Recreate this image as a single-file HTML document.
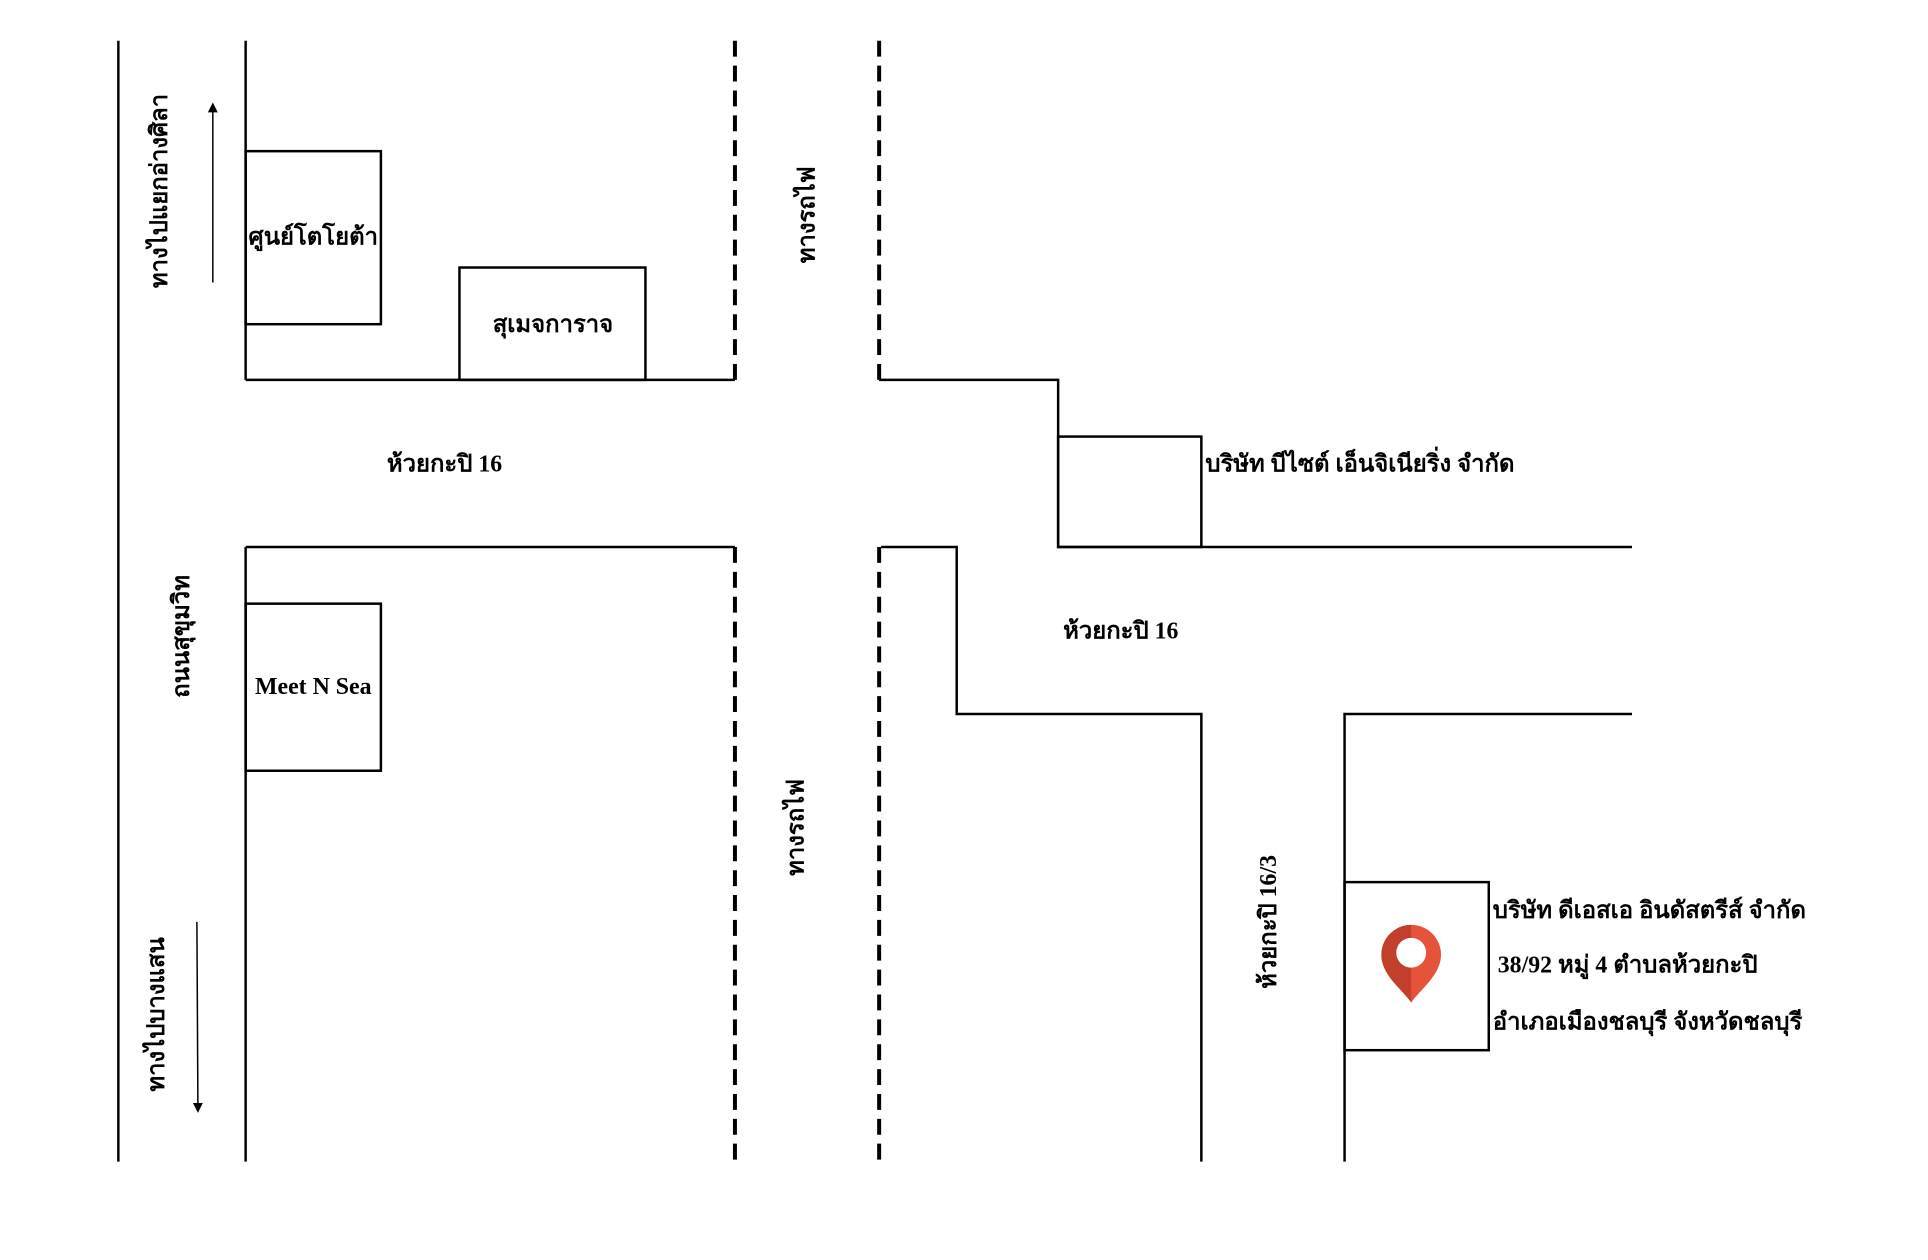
<!DOCTYPE html>
<html><head><meta charset="utf-8"><style>
html,body{margin:0;padding:0;background:#fff}
svg{display:block}
text{font-family:"Liberation Serif","Noto Serif CJK SC",serif;font-weight:bold;font-size:24px;fill:#000}
</style></head><body>
<svg width="1928" height="1260" viewBox="0 0 1928 1260" xmlns="http://www.w3.org/2000/svg">
<defs><marker id="ah" markerWidth="10" markerHeight="10" refX="5" refY="5" orient="auto" markerUnits="userSpaceOnUse"><path d="M0,0 L10,5 L0,10 z" fill="#000"/></marker></defs>
<g transform="scale(0.9945)">
<g stroke="#000" stroke-width="2.5" fill="none">
<line x1="119" y1="41" x2="119" y2="1168"/>
<line x1="247" y1="41" x2="247" y2="382"/>
<line x1="247" y1="550" x2="247" y2="1168"/>
<line x1="247" y1="382" x2="739" y2="382"/>
<line x1="247" y1="550" x2="739" y2="550"/>
<rect x="247" y="152" width="136" height="174"/>
<rect x="462" y="269" width="187" height="113"/>
<rect x="247" y="607" width="136" height="168"/>
<polyline points="884,382 1064,382 1064,550 1641,550"/>
<rect x="1064" y="439" width="144" height="111"/>
<polyline points="886,550 962,550 962,718 1208,718 1208,1168"/>
<polyline points="1641,718 1352,718 1352,1168"/>
<rect x="1352" y="887" width="145" height="169"/>
</g>
<g stroke="#000" stroke-width="4" stroke-dasharray="16,9" fill="none">
<line x1="739" y1="41" x2="739" y2="382"/>
<line x1="739" y1="550" x2="739" y2="1168"/>
<line x1="884" y1="41" x2="884" y2="382"/>
<line x1="884" y1="550" x2="884" y2="1168"/>
</g>
<g stroke="#000" stroke-width="1.5">
<line x1="214" y1="284" x2="214" y2="108" marker-end="url(#ah)"/>
<line x1="198" y1="927" x2="199" y2="1114" marker-end="url(#ah)"/>
</g>
<g text-anchor="middle" dominant-baseline="central">
<text x="315" y="239">ศูนย์โตโยต้า</text>
<text x="556" y="327">สุเมจการาจ</text>
<text x="315" y="691">Meet N Sea</text>
<text x="447" y="467">ห้วยกะปิ 16</text>
<text x="1127" y="635">ห้วยกะปิ 16</text>
<text transform="translate(161,192) rotate(-90)">ทางไปแยกอ่างศิลา</text>
<text transform="translate(183,640) rotate(-90)">ถนนสุขุมวิท</text>
<text transform="translate(158,1020) rotate(-90)">ทางไปบางแสน</text>
<text transform="translate(812,216) rotate(-90)">ทางรถไฟ</text>
<text transform="translate(801,832) rotate(-90)">ทางรถไฟ</text>
<text transform="translate(1276,927) rotate(-90)">ห้วยกะปิ 16/3</text>
</g>
<g dominant-baseline="central">
<text x="1212" y="467">บริษัท บีไซต์ เอ็นจิเนียริ่ง จำกัด</text>
<text x="1501" y="916">บริษัท ดีเอสเอ อินดัสตรีส์ จำกัด</text>
<text x="1506" y="971">38/92 หมู่ 4 ตำบลห้วยกะปิ</text>
<text x="1501" y="1028">อำเภอเมืองชลบุรี จังหวัดชลบุรี</text>
</g>
<g transform="translate(1419,968)">
<path d="M0,40 C-10,26 -30,12 -30,-8 A30,30 0 0 1 30,-8 C30,12 10,26 0,40 Z" fill="#e5533a"/>
<path d="M0,40 C-10,26 -30,12 -30,-8 A30,30 0 0 1 0,-38 Z" fill="#c2402b"/>
<circle cx="0" cy="-10" r="15" fill="#fff"/>
</g>
</g>
</svg>
</body></html>
